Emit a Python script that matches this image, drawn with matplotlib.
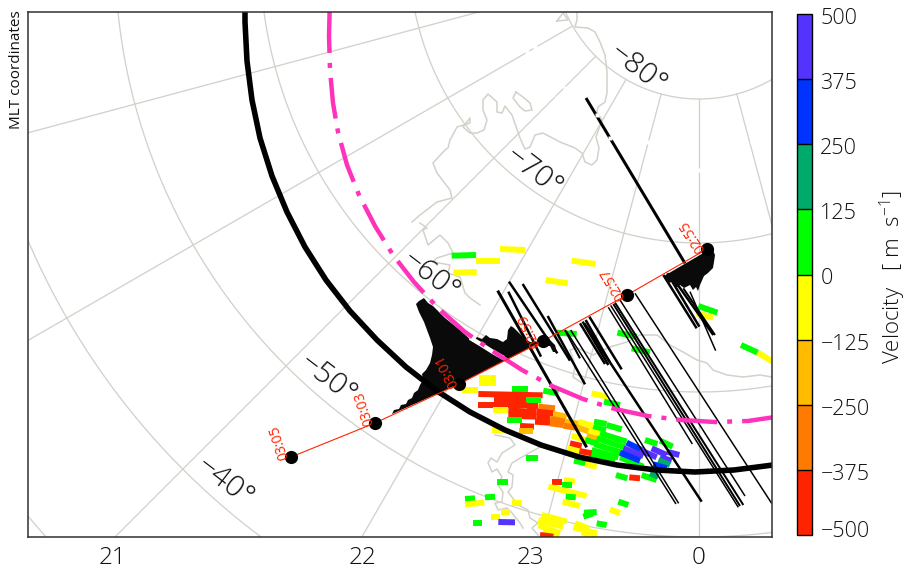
import numpy as np
import matplotlib
matplotlib.use('Agg')
import matplotlib.pyplot as plt
from matplotlib.collections import LineCollection
from matplotlib.colors import ListedColormap, BoundaryNorm
from matplotlib.colorbar import ColorbarBase
from matplotlib.transforms import ScaledTranslation

plt.rcParams['font.family'] = ['DejaVu Sans']
plt.rcParams['lines.scale_dashes'] = False
plt.rcParams['mathtext.default'] = 'regular'
FONT = dict(family='Open Sans', weight='light')

# colour scale
levels = [-500, -375, -250, -125, 0, 125, 250, 375, 500]
level_labels = ['\u2212500', '\u2212375', '\u2212250', '\u2212125', '0', '125', '250', '375', '500']
level_colors = ['#ff2400', '#ff7a00', '#ffbb00', '#ffff00', '#00ff00', '#00aa6a', '#0033ff', '#5533ff']

# graticule
pole = (699, -47)
lat_labels = ['\u221280\u00b0', '\u221270\u00b0', '\u221260\u00b0', '\u221250\u00b0', '\u221240\u00b0']
lat_radius = [146, 290, 439, 584, 730, 876]
lat_label_x = [637, 533, 430, 327, 224]
lat_label_y = [69, 172, 276, 379, 482]
mlt_angle = [-15, 0, 15, 30, 45, 60, 75]
mlt_labels = ['21', '22', '23', '0']
mlt_label_x = [113, 363, 531, 699]

# satellite track
track_x = [291, 375, 459, 543, 627, 707]
track_y = [457, 423, 384, 341, 295, 249]
track_times = ['03:05', '03:03', '03:01', '02:59', '02:57', '02:55']
time_x = [285, 370, 455, 537, 622, 702]
time_y = [459, 425, 387, 346, 299, 251]
time_rot = [108, 108, 117, 115, 121, 123]

# boundaries
black_x = [775, 773, 734, 695, 656, 617, 579, 541, 505, 470, 437, 406, 377, 350, 326, 305, 287, 272, 260, 252, 247, 245, 245]
black_y = [462, 465, 470, 472, 470, 465, 457, 445, 430, 412, 391, 367, 340, 311, 280, 247, 212, 176, 138, 100, 61, 22, 8]
magenta_x = [329.5, 329.5, 329, 330, 333, 338, 347, 359, 375, 393, 414, 438, 465, 494, 522, 552, 583, 615, 648, 681, 715, 748, 775]
magenta_y = [8, 16, 36, 70, 103, 132, 165, 195, 226, 255, 282, 308, 332, 352, 370, 386, 399, 409, 416, 420, 422, 421, 417]
gap_x = [508, 513, 527, 535, 557, 565, 597, 610, 648, 699, 752, 772, 772]
gap_y = [12, 12, 52, 47, 98, 88, 115, 138, 142, 170, 142, 140, 155]
gap2_x = [472, 482, 493, 502]
gap2_y = [339, 345, 352, 357]

# coast outlines
coast_a_x = [577, 577, 575, 588, 595, 600, 605, 607, 607, 605, 598, 597, 602, 596, 599, 597, 592, 585, 582, 575, 560, 543, 535, 530, 525, 520, 512, 505, 502, 497, 497, 488, 483, 483, 487, 484, 477, 470, 463, 470, 470, 457, 450, 448, 445, 433, 437, 450, 452, 437, 420, 412]
coast_a_y = [13, 20, 27, 28, 32, 42, 55, 72, 93, 102, 107, 112, 120, 137, 148, 160, 165, 162, 153, 148, 142, 133, 135, 147, 149, 138, 115, 106, 113, 112, 102, 94, 100, 110, 120, 130, 133, 133, 127, 118, 123, 127, 140, 148, 150, 163, 173, 190, 198, 202, 215, 222]
coast_b_x = [557, 563, 568, 557]
coast_b_y = [21, 13, 20, 21]
coast_c_x = [516, 513, 520, 525, 532, 530, 523, 516]
coast_c_y = [92, 98, 107, 111, 110, 103, 97, 92]
coast_d_x = [420, 427, 423, 428, 440, 448, 453, 437, 433, 450, 448, 460, 465, 470, 480]
coast_d_y = [223, 228, 230, 245, 235, 243, 253, 258, 262, 265, 273, 277, 293, 298, 305]
coast_e_x = [772, 760, 743, 727, 713, 707, 697, 683, 670, 657, 640, 627, 610, 593, 577, 570, 575, 573, 582]
coast_e_y = [377, 375, 377, 375, 370, 363, 360, 352, 345, 335, 335, 342, 347, 355, 348, 350, 365, 377, 383]
coast_f_x = [495, 510, 515, 502, 497, 491, 488, 492, 497, 502, 498, 503, 502, 495, 498, 507, 512, 520, 523]
coast_f_y = [435, 438, 445, 453, 462, 458, 463, 472, 469, 477, 485, 492, 502, 503, 510, 508, 513, 523, 528]
coast_g_x = [540, 522, 512, 508, 513, 512, 508, 518, 528, 530, 538, 532, 538]
coast_g_y = [447, 457, 463, 472, 475, 487, 492, 505, 510, 518, 523, 528, 535]
coast_outlines = [(coast_a_x, coast_a_y), (coast_b_x, coast_b_y), (coast_c_x, coast_c_y), (coast_d_x, coast_d_y),
                  (coast_e_x, coast_e_y), (coast_f_x, coast_f_y), (coast_g_x, coast_g_y)]

# filled profile spikes
spike_a_x = [392, 394, 399, 401, 406, 408, 412, 414, 418, 420, 423, 422, 426, 430, 432, 433, 430, 427, 424, 419, 416, 419, 424, 428, 433, 445, 460, 473, 477, 482, 486, 490, 497, 503, 507, 508, 511, 514, 518, 523, 530, 537, 544, 459]
spike_a_y = [414, 410, 409, 405, 404, 400, 398, 393, 390, 385, 380, 374, 370, 363, 355, 347, 338, 330, 322, 312, 304, 301, 298, 303, 306, 318, 330, 342, 337, 339, 335, 338, 339, 342, 339, 330, 326, 328, 332, 337, 342, 342, 341, 384]
spike_b_x = [547, 555, 557, 553, 550, 545]
spike_b_y = [337, 345, 352, 352, 346, 346]
spike_c_x = [664, 668, 672, 676, 680, 684, 690, 693, 696, 698, 700, 704, 708, 713, 714, 715, 712]
spike_c_y = [276, 283, 282, 288, 285, 288, 285, 290, 287, 291, 285, 276, 273, 268, 262, 255, 248]

# profile bars, read in 3x crop units from (380, 220)
bar_x0 = [618, 353, 387, 385, 428, 503, 555, 560, 572, 600, 608, 617, 628, 613, 685, 692, 700, 705, 720, 765, 850, 862, 890, 910, 930]
bar_y0 = [-366, 212, 185, 215, 192, 288, 330, 335, 330, 310, 305, 300, 290, 310, 262, 256, 252, 248, 240, 220, 165, 160, 190, 205, 215]
bar_x1 = [915, 620, 532, 483, 570, 615, 600, 888, 896, 675, 685, 690, 725, 965, 937, 1075, 1080, 1090, 1095, 1175, 950, 958, 1000, 1005, 1007]
bar_y1 = [130, 682, 400, 410, 422, 493, 415, 852, 850, 432, 435, 428, 448, 845, 672, 862, 858, 855, 828, 850, 325, 320, 345, 345, 392]
bar_w = [3, 3, 2.5, 2.5, 2.5, 2.5, 2, 1.5, 1.5, 2.5, 2.5, 2.5, 2.5, 2.5, 1.5, 1.5, 2, 2, 1.5, 1.5, 2.5, 2.5, 2.5, 2, 1.5]

# velocity cells, read in 3x crop units from (380, 220)
cell_x0 = [215, 288, 360, 220, 575, 497, 955, 950, 1083, 1133, 530, 712, 755, 297, 297, 245, 395, 490,
           295, 343, 437, 295, 340, 440, 475, 340, 385, 470, 520, 385, 470, 510, 555, 382, 465, 510, 550,
           420, 418, 335, 635, 672,
           642, 680, 635, 595, 590, 625, 620, 575, 615, 660, 650, 643, 635, 630,
           570, 562, 598, 582, 615,
           720, 740, 730, 720, 780, 815, 860, 840, 835, 820, 795, 840, 785, 810, 748, 708,
           437, 352, 515, 552, 545, 505, 557, 548, 255, 315, 255, 397, 715, 612, 610, 690, 333, 362, 280, 355, 650,
           485, 475, 475, 490, 585, 580, 605, 480]
cell_y0 = [107, 122, 87, 158, 122, 180, 258, 280, 375, 398, 338, 338, 385, 473, 490, 510, 507, 512,
           522, 540, 541, 555, 555, 557, 560, 570, 572, 575, 582, 587, 590, 596, 605, 600, 605, 610, 617,
           618, 633, 631, 520, 545,
           605, 615, 622, 605, 622, 632, 648, 647, 660, 640, 655, 672, 690, 705,
           670, 685, 693, 722, 733,
           712, 668, 685, 698, 690, 685, 695, 712, 720, 733, 660, 662, 765, 760, 772, 765,
           713, 785, 787, 780, 795, 800, 830, 845, 837, 832, 853, 848, 845, 878, 890, 868, 891, 876, 909, 906, 910,
           885, 900, 915, 930, 910, 922, 937, 945]
cell_x1 = [288, 360, 435, 290, 647, 563, 1012, 1000, 1133, 1178, 590, 770, 810, 347, 347, 295, 443, 535,
           488, 440, 483, 340, 440, 475, 525, 385, 470, 520, 560, 470, 510, 555, 600, 425, 510, 550, 600,
           462, 460, 378, 682, 720,
           680, 725, 678, 640, 630, 668, 660, 615, 655, 740, 735, 725, 715, 705,
           605, 600, 635, 620, 650,
           790, 785, 790, 780, 830, 860, 898, 875, 870, 860, 832, 878, 830, 835, 780, 742,
           473, 385, 545, 585, 575, 620, 587, 600, 285, 345, 313, 427, 745, 650, 640, 720, 360, 390, 305, 405, 680,
           560, 550, 540, 535, 625, 650, 650, 520]
cell_y1 = [105, 122, 90, 156, 132, 190, 278, 293, 398, 425, 342, 350, 397, 473, 490, 510, 507, 520,
           526, 540, 541, 555, 555, 557, 565, 570, 575, 580, 590, 590, 594, 605, 612, 600, 608, 615, 625,
           620, 633, 631, 530, 555,
           612, 628, 630, 618, 635, 645, 660, 660, 672, 665, 682, 698, 712, 725,
           678, 695, 700, 730, 740,
           740, 690, 708, 722, 712, 705, 705, 722, 735, 745, 672, 680, 780, 770, 775, 775,
           713, 785, 787, 785, 795, 828, 832, 858, 835, 830, 848, 848, 855, 876, 880, 880, 891, 876, 909, 907, 915,
           905, 920, 940, 945, 925, 940, 950, 950]
cell_v = [60, -60, -60, -60, -60, -60, 60, -60, 60, -60, 60, 60, 60, -60, -60, -60, 60, 60,
          -450, -450, 60, -450, -450, -450, -300, -60, -450, -450, -200, -450, -450, -300, -200, 60, -450, -300, -300,
          -450, -200, -60, -60, 60,
          60, 60, 60, -60, -200, -60, -200, -60, 60, 60, 60, 60, 60, 60,
          -450, -60, -450, 60, -60,
          60, 300, 450, 300, 450, 450, 450, 450, 200, 300, 60, 60, 60, 200, -450, 60,
          60, 60, -450, -60, 60, -60, 60, -60, 60, 60, -60, -60, 60, 60, 60, -60, -60, -60, 60, 450, 60,
          -60, -60, -60, -60, -60, -60, -60, -450]

cmap = ListedColormap(level_colors)
norm = BoundaryNorm(levels, cmap.N)

fig = plt.figure(figsize=(9.10, 5.71), dpi=100)
ax = fig.add_axes([28 / 910, (571 - 537) / 571, 744 / 910, 525 / 571])
ax.set_xlim(28, 772)
ax.set_ylim(537, 12)
ax.set_xticks([])
ax.set_yticks([])
for s in ax.spines.values():
    s.set_linewidth(1.1)
    s.set_color('#303030')
    s.set_zorder(20)

GRID = '#d2d2ca'
th = np.radians(np.linspace(-80, 85, 500))
for r in lat_radius:
    ax.plot(pole[0] - r * np.sin(th), pole[1] + r * np.cos(th), color=GRID, lw=0.95, zorder=1)
for a in mlt_angle:
    t = np.radians(a)
    ax.plot([pole[0] - 146 * np.sin(t), pole[0] - 1000 * np.sin(t)],
            [pole[1] + 146 * np.cos(t), pole[1] + 1000 * np.cos(t)], color=GRID, lw=0.95, zorder=1)
for cx, cy in coast_outlines:
    ax.plot(cx, cy, color=GRID, lw=1.1, zorder=1, solid_joinstyle='round')

x0 = 380 + np.array(cell_x0) / 3
y0 = 220 + np.array(cell_y0) / 3
x1 = 380 + np.array(cell_x1) / 3
y1 = 220 + np.array(cell_y1) / 3
segs = [[(a, b), (c, d)] for a, b, c, d in zip(x0, y0, x1, y1)]
cells = LineCollection(segs, colors=cmap(norm(cell_v)), linewidths=4.3, capstyle='butt', zorder=3)
ax.add_collection(cells)

bx0 = 380 + np.array(bar_x0) / 3
by0 = 220 + np.array(bar_y0) / 3
bx1 = 380 + np.array(bar_x1) / 3
by1 = 220 + np.array(bar_y1) / 3
bars = [[(a, b), (c, d)] for a, b, c, d in zip(bx0, by0, bx1, by1)]
ax.add_collection(LineCollection(bars, colors='black', linewidths=np.array(bar_w) * 0.72, capstyle='butt', zorder=4))

ax.fill(spike_a_x, spike_a_y, color='#0a0a0a', lw=0, zorder=4)
ax.fill(spike_b_x, spike_b_y, color='#0a0a0a', lw=0, zorder=4)
ax.fill(spike_c_x, spike_c_y, color='#0a0a0a', lw=0, zorder=4)

ax.plot(gap_x, gap_y, ls='none', marker='s', ms=3.2, mfc='white', mec='none', zorder=5)
ax.plot(black_x, black_y, color='black', lw=4.0, zorder=6, solid_joinstyle='round')
ax.plot(gap2_x, gap2_y, color='white', lw=3.2, zorder=6)
ax.plot(magenta_x, magenta_y, color='#ff33bb', lw=3.2, zorder=7,
        ls=(62 * 0.72, (29.5, 7.2, 3.6, 7.2)),
        dash_capstyle='butt', dash_joinstyle='round')

ax.plot(track_x, track_y, color='#ff2400', lw=0.8, zorder=8)
ax.scatter(track_x, track_y, s=90, color='black', lw=0, zorder=9)
for lab, x, y, r in zip(track_times, time_x, time_y, time_rot):
    ax.text(x, y, lab, color='#ff2400', fontsize=10, rotation=r, rotation_mode='anchor',
            ha='left', va='center', zorder=10, family='Open Sans', weight='normal')

for lab, x, y in zip(lat_labels, lat_label_x, lat_label_y):
    ax.text(x, y, lab, fontsize=21.5, rotation=-37.5, rotation_mode='anchor', ha='center', va='center',
            color='#111111', zorder=10, **FONT)
for lab, x in zip(mlt_labels, mlt_label_x):
    ax.text(x, 558, lab, fontsize=17.5, ha='center', va='center', color='#111111', clip_on=False, **FONT)
ax.text(17, 69.5, 'MLT coordinates', fontsize=11, rotation=90, ha='center', va='center', clip_on=False,
        color='#111111', family='Open Sans', weight='normal')

cax = fig.add_axes([797 / 910, (571 - 535) / 571, 15 / 910, 521 / 571])
cb = ColorbarBase(cax, cmap=cmap, norm=norm, ticks=levels, spacing='uniform', drawedges=True)
cb.outline.set_linewidth(1.0)
cb.dividers.set_linewidth(1.0)
cb.ax.tick_params(length=0, pad=6)
cb.set_ticklabels(level_labels)
offs = [-6] + [2] * 7 + [2]
for t, o in zip(cb.ax.get_yticklabels(), offs):
    t.set_fontsize(15.5)
    t.set_family('Open Sans')
    t.set_weight('light')
    t.set_color('#111111')
    t.set_transform(t.get_transform() + ScaledTranslation(0, -o / 100, fig.dpi_scale_trans))
fig.text(893 / 910, 1 - 277 / 571, 'Velocity   [ m  s$^{-1}$]', fontsize=16, rotation=90,
         ha='center', va='center', color='#111111', **FONT)

fig.savefig('out.png', dpi=100)
